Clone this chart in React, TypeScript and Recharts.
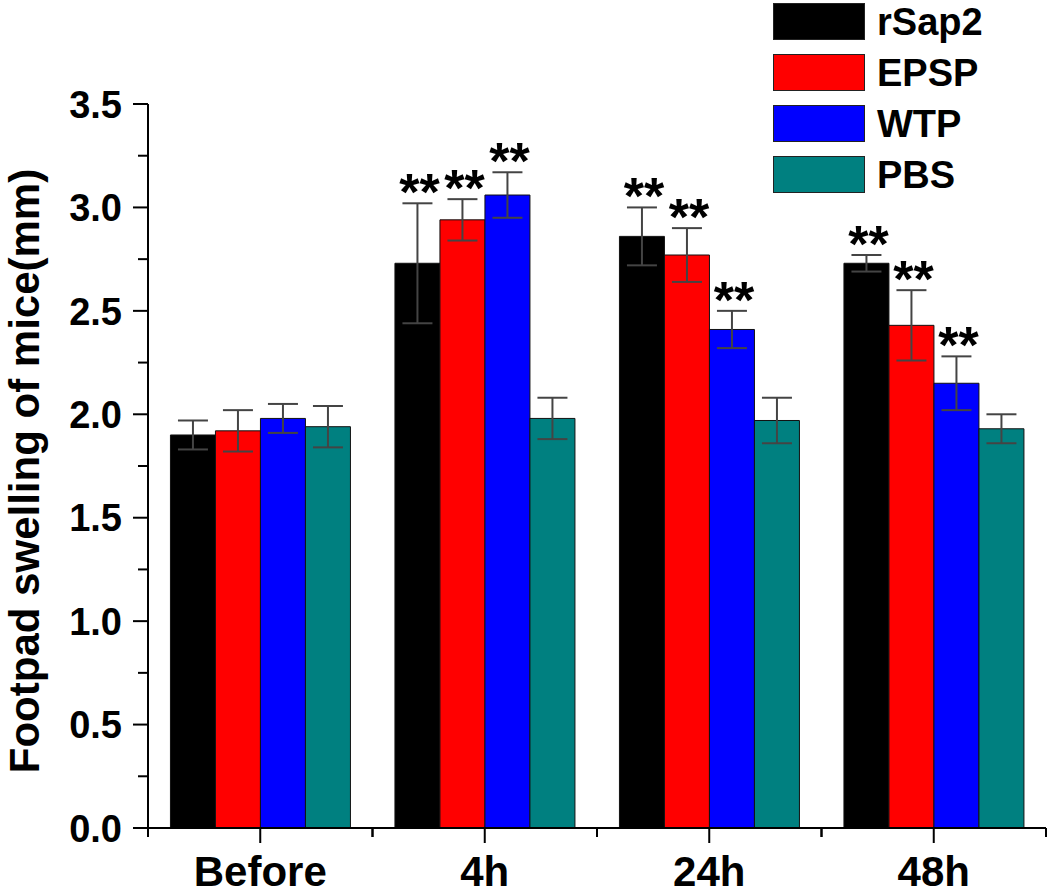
import React from 'react';
import { BarChart, Bar, XAxis, YAxis, ErrorBar, LabelList, Legend } from 'recharts';

const categories = ['Before', '4h', '24h', '48h'];
const rSap2 = [1.90, 2.73, 2.86, 2.73];
const rSap2Err = [0.07, 0.29, 0.14, 0.04];
const EPSP = [1.92, 2.94, 2.77, 2.43];
const EPSPErr = [0.10, 0.10, 0.13, 0.17];
const WTP = [1.98, 3.06, 2.41, 2.15];
const WTPErr = [0.07, 0.11, 0.09, 0.13];
const PBS = [1.94, 1.98, 1.97, 1.93];
const PBSErr = [0.10, 0.10, 0.11, 0.07];
const significant = [false, true, true, true];
const yTicks = [0, 0.25, 0.5, 0.75, 1.0, 1.25, 1.5, 1.75, 2.0, 2.25, 2.5, 2.75, 3.0, 3.25, 3.5];

const series = [
  { key: 'rSap2', name: 'rSap2', color: '#000000', stars: true },
  { key: 'EPSP', name: 'EPSP', color: '#ff0000', stars: true },
  { key: 'WTP', name: 'WTP', color: '#0000ff', stars: true },
  { key: 'PBS', name: 'PBS', color: '#008080', stars: false },
];

const data = categories.map((c, i) => ({
  cat: c,
  rSap2: rSap2[i], rSap2Err: rSap2Err[i],
  EPSP: EPSP[i], EPSPErr: EPSPErr[i],
  WTP: WTP[i], WTPErr: WTPErr[i],
  PBS: PBS[i], PBSErr: PBSErr[i],
}));

const FONT = '"Liberation Sans", Arial, Helvetica, sans-serif';

const YTick = (props: any) => {
  const { x, y, payload } = props;
  const v = payload.value;
  const major = Math.abs(v * 2 - Math.round(v * 2)) < 1e-6;
  return (
    <g>
      <line x1={x - (major ? 15 : 10)} x2={x} y1={y} y2={y} stroke="#000" strokeWidth={2} />
      {major && (
        <text x={x - 26} y={y} dy="0.36em" textAnchor="end" fontFamily={FONT} fontWeight="bold" fontSize={38} fill="#000">
          {v.toFixed(1)}
        </text>
      )}
    </g>
  );
};

const XTick = (props: any) => {
  const { x, y, payload, width, visibleTicksCount } = props;
  const half = width && visibleTicksCount ? width / visibleTicksCount / 2 : 112;
  return (
    <g>
      <line x1={x} x2={x} y1={y} y2={y + 15} stroke="#000" strokeWidth={2} />
      <line x1={x - half} x2={x - half} y1={y} y2={y + 9} stroke="#000" strokeWidth={2} />
      <line x1={x + half} x2={x + half} y1={y} y2={y + 9} stroke="#000" strokeWidth={2} />
      <text x={x} y={y + 58} textAnchor="middle" fontFamily={FONT} fontWeight="bold" fontSize={42} fill="#000">
        {payload.value}
      </text>
    </g>
  );
};

const makeStars = (errKey: string) => (props: any) => {
  const { x, y, width, height, value, index } = props;
  if (!significant[index]) return null;
  const err = (data[index] as any)[errKey];
  const pxPer = height / value;
  const capY = y - err * pxPer;
  return (
    <text x={x + width / 2 + 2} y={capY + 7} textAnchor="middle" fontFamily={FONT} fontWeight="bold" fontSize={52} fill="#000">
      **
    </text>
  );
};

const LegendContent = () => (
  <div style={{ fontFamily: FONT }}>
    {series.map((s) => (
      <div key={s.key} style={{ display: 'flex', alignItems: 'center', height: 51 }}>
        <div style={{ width: 90, height: 35, background: s.color, border: '1.5px solid #222', boxSizing: 'content-box' }} />
        <span style={{ marginLeft: 12, fontSize: 38, fontWeight: 'bold', color: '#000', lineHeight: '38px' }}>{s.name}</span>
      </div>
    ))}
  </div>
);

export default function App() {
  return (
    <div style={{ position: 'absolute', left: 0, top: 0, width: 1050, height: 895, background: '#fff' }}>
      <BarChart
        width={1050}
        height={895}
        data={data}
        margin={{ top: 104, right: 4, left: 0, bottom: 0 }}
        barCategoryGap="10%"
        barGap={0}
      >
        <XAxis
          dataKey="cat"
          height={67}
          tickSize={0}
          tickMargin={0}
          tickLine={false}
          axisLine={{ stroke: '#000', strokeWidth: 2 }}
          tick={<XTick />}
          interval={0}
        />
        <YAxis
          width={148}
          domain={[0, 3.5]}
          ticks={yTicks}
          interval={0}
          tickSize={0}
          tickMargin={0}
          tickLine={false}
          axisLine={{ stroke: '#000', strokeWidth: 2 }}
          tick={<YTick />}
          label={{
            value: 'Footpad swelling of mice(mm)',
            angle: -90,
            position: 'insideLeft',
            content: () => (
              <text
                x={24}
                y={471}
                transform="rotate(-90 24 471)"
                textAnchor="middle"
                dominantBaseline="central"
                fontFamily={FONT}
                fontWeight="bold"
                fontSize={42}
                fill="#000"
              >
                Footpad swelling of mice(mm)
              </text>
            ),
          }}
        />
        <Legend
          layout="vertical"
          align="center"
          verticalAlign="middle"
          content={<LegendContent />}
          wrapperStyle={{ position: 'absolute', left: 773, top: -4, width: 260 }}
        />
        {series.map((s) => (
          <Bar key={s.key} dataKey={s.key} name={s.name} fill={s.color} stroke="#111" strokeWidth={1} isAnimationActive={false}>
            <ErrorBar dataKey={s.key + 'Err'} width={15} strokeWidth={2} stroke="#444" direction="y" />
            {s.stars && <LabelList dataKey={s.key} content={makeStars(s.key + 'Err')} />}
          </Bar>
        ))}
      </BarChart>
    </div>
  );
}
